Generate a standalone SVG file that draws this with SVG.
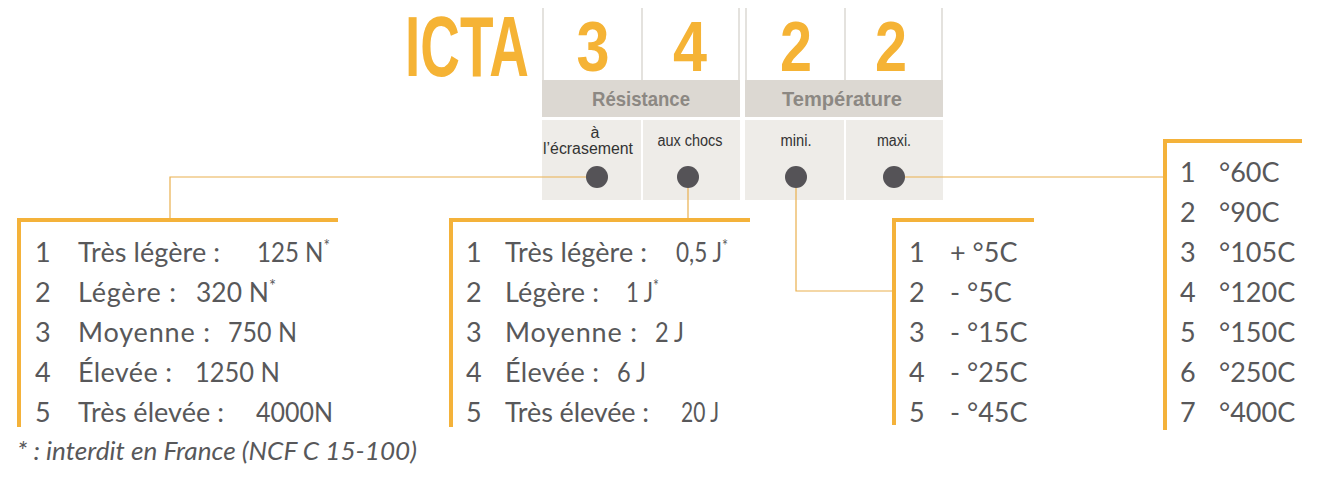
<svg xmlns="http://www.w3.org/2000/svg" width="1320" height="482" viewBox="0 0 1320 482">
<defs>
<style>
.big{font-family:"Liberation Sans",Arial,sans-serif;font-weight:bold;fill:#f5b335;}
.band{fill:#dcd8d2;}
.cell{fill:#eeece8;}
.sep{fill:#e4e2de;}
.bandt{font-family:"Liberation Sans",Arial,sans-serif;font-weight:bold;font-size:21px;fill:#8c8883;text-anchor:middle;}
.sub{font-family:"Liberation Sans",Arial,sans-serif;font-size:16px;fill:#333333;text-anchor:middle;}
.dot{fill:#555357;}
.bar{fill:#f4b23a;}
.con{fill:none;stroke:#eab04e;stroke-width:1.2;}
.t{font-family:Lato,"Noto Sans",sans-serif;font-size:27px;fill:#58585a;}
.sup{font-size:17px;}
.fn{font-family:Lato,"Noto Sans",sans-serif;font-style:italic;font-size:25px;fill:#58585a;}
</style>
</defs>
<rect width="1320" height="482" fill="#ffffff"/>

<g id="header">
<text class="big" x="405" y="76" font-size="85" textLength="124" lengthAdjust="spacingAndGlyphs">ICTA</text>
<rect class="sep" x="542" y="8" width="2" height="72"/>
<rect class="sep" x="641" y="8" width="2" height="72"/>
<rect class="sep" x="738" y="8" width="2" height="72"/>
<rect class="sep" x="745" y="8" width="2" height="72"/>
<rect class="sep" x="844" y="8" width="2" height="72"/>
<rect class="sep" x="941" y="8" width="2" height="72"/>
<text class="big" x="593" y="71" font-size="70" text-anchor="middle" textLength="33" lengthAdjust="spacingAndGlyphs">3</text>
<text class="big" x="690" y="71" font-size="70" text-anchor="middle" textLength="34" lengthAdjust="spacingAndGlyphs">4</text>
<text class="big" x="796" y="71" font-size="70" text-anchor="middle" textLength="32" lengthAdjust="spacingAndGlyphs">2</text>
<text class="big" x="891" y="71" font-size="70" text-anchor="middle" textLength="32" lengthAdjust="spacingAndGlyphs">2</text>
</g>

<g id="resistance">
<rect class="band" x="542" y="80" width="198" height="37"/>
<text class="bandt" x="641" y="106" textLength="98" lengthAdjust="spacingAndGlyphs">Résistance</text>
</g>
<g id="temperature">
<rect class="band" x="745" y="80" width="198" height="37"/>
<text class="bandt" x="842" y="106" textLength="120" lengthAdjust="spacingAndGlyphs">Température</text>
</g>

<g id="ecrasement">
<rect class="cell" x="542" y="120" width="99" height="80"/>
<text class="sub" x="595" y="138">à</text>
<text class="sub" x="588" y="154" textLength="90" lengthAdjust="spacingAndGlyphs">l’écrasement</text>
<circle class="dot" cx="597" cy="177" r="11"/>
</g>
<g id="chocs">
<rect class="cell" x="643" y="120" width="97" height="80"/>
<text class="sub" x="690" y="146" textLength="65" lengthAdjust="spacingAndGlyphs">aux chocs</text>
<circle class="dot" cx="688" cy="177" r="11"/>
</g>
<g id="mini">
<rect class="cell" x="745" y="120" width="99" height="80"/>
<text class="sub" x="796" y="146" textLength="31" lengthAdjust="spacingAndGlyphs">mini.</text>
<circle class="dot" cx="796" cy="177" r="11"/>
</g>
<g id="maxi">
<rect class="cell" x="846" y="120" width="97" height="80"/>
<text class="sub" x="894" y="146" textLength="34" lengthAdjust="spacingAndGlyphs">maxi.</text>
<circle class="dot" cx="894" cy="177" r="11"/>
</g>

<g id="connectors">
<polyline class="con" points="586,177 170,177 170,218"/>
<polyline class="con" points="688,188 688,218"/>
<polyline class="con" points="796,188 796,291 892,291"/>
<polyline class="con" points="905,177 1163,177"/>
</g>

<g id="box-ecrasement">
<rect class="bar" x="17" y="218" width="321" height="4"/>
<rect class="bar" x="17" y="218" width="4" height="209"/>
<text class="t" x="35" y="262">1</text><text class="t" x="78" y="262" textLength="142" lengthAdjust="spacing">Très légère :</text><text class="t" x="257" y="262" textLength="73" lengthAdjust="spacingAndGlyphs">125 N<tspan class="sup" dy="-10">*</tspan></text>
<text class="t" x="35" y="302">2</text><text class="t" x="78" y="302" textLength="98" lengthAdjust="spacing">Légère :</text><text class="t" x="196" y="302" textLength="80" lengthAdjust="spacingAndGlyphs">320 N<tspan class="sup" dy="-10">*</tspan></text>
<text class="t" x="35" y="342">3</text><text class="t" x="78" y="342" textLength="132" lengthAdjust="spacing">Moyenne :</text><text class="t" x="228" y="342" textLength="69" lengthAdjust="spacingAndGlyphs">750 N</text>
<text class="t" x="35" y="382">4</text><text class="t" x="78" y="382" textLength="94" lengthAdjust="spacing">Élevée :</text><text class="t" x="195" y="382" textLength="85" lengthAdjust="spacingAndGlyphs">1250 N</text>
<text class="t" x="35" y="422">5</text><text class="t" x="78" y="422" textLength="146" lengthAdjust="spacing">Très élevée :</text><text class="t" x="256" y="422" textLength="77" lengthAdjust="spacingAndGlyphs">4000N</text>
</g>

<g id="box-chocs">
<rect class="bar" x="449" y="218" width="301" height="4"/>
<rect class="bar" x="449" y="218" width="4" height="209"/>
<text class="t" x="466" y="262">1</text><text class="t" x="505" y="262" textLength="142" lengthAdjust="spacing">Très légère :</text><text class="t" x="676" y="262" textLength="52" lengthAdjust="spacingAndGlyphs">0,5 J<tspan class="sup" dy="-10">*</tspan></text>
<text class="t" x="466" y="302">2</text><text class="t" x="505" y="302" textLength="94" lengthAdjust="spacing">Légère :</text><text class="t" x="626" y="302" textLength="33" lengthAdjust="spacingAndGlyphs">1 J<tspan class="sup" dy="-10">*</tspan></text>
<text class="t" x="466" y="342">3</text><text class="t" x="505" y="342" textLength="132" lengthAdjust="spacing">Moyenne :</text><text class="t" x="655" y="342" textLength="29" lengthAdjust="spacingAndGlyphs">2 J</text>
<text class="t" x="466" y="382">4</text><text class="t" x="505" y="382" textLength="94" lengthAdjust="spacing">Élevée :</text><text class="t" x="617" y="382" textLength="29" lengthAdjust="spacingAndGlyphs">6 J</text>
<text class="t" x="466" y="422">5</text><text class="t" x="505" y="422" textLength="144" lengthAdjust="spacing">Très élevée :</text><text class="t" x="681" y="422" textLength="38" lengthAdjust="spacingAndGlyphs">20 J</text>
</g>

<g id="box-mini">
<rect class="bar" x="892" y="218" width="142" height="4"/>
<rect class="bar" x="892" y="218" width="4" height="207"/>
<text class="t" x="909" y="262">1</text><text class="t" x="950" y="262">+ °5C</text>
<text class="t" x="909" y="302">2</text><text class="t" x="950" y="302">- °5C</text>
<text class="t" x="909" y="342">3</text><text class="t" x="950" y="342">- °15C</text>
<text class="t" x="909" y="382">4</text><text class="t" x="950" y="382">- °25C</text>
<text class="t" x="909" y="422">5</text><text class="t" x="950" y="422">- °45C</text>
</g>

<g id="box-maxi">
<rect class="bar" x="1163" y="139" width="139" height="4"/>
<rect class="bar" x="1163" y="139" width="4" height="291"/>
<text class="t" x="1180" y="182">1</text><text class="t" x="1219" y="182">°60C</text>
<text class="t" x="1180" y="222">2</text><text class="t" x="1219" y="222">°90C</text>
<text class="t" x="1180" y="262">3</text><text class="t" x="1219" y="262">°105C</text>
<text class="t" x="1180" y="302">4</text><text class="t" x="1219" y="302">°120C</text>
<text class="t" x="1180" y="342">5</text><text class="t" x="1219" y="342">°150C</text>
<text class="t" x="1180" y="382">6</text><text class="t" x="1219" y="382">°250C</text>
<text class="t" x="1180" y="422">7</text><text class="t" x="1219" y="422">°400C</text>
</g>

<text class="fn" x="17" y="460" textLength="400" lengthAdjust="spacingAndGlyphs">* : interdit en France (NCF C 15-100)</text>
</svg>
